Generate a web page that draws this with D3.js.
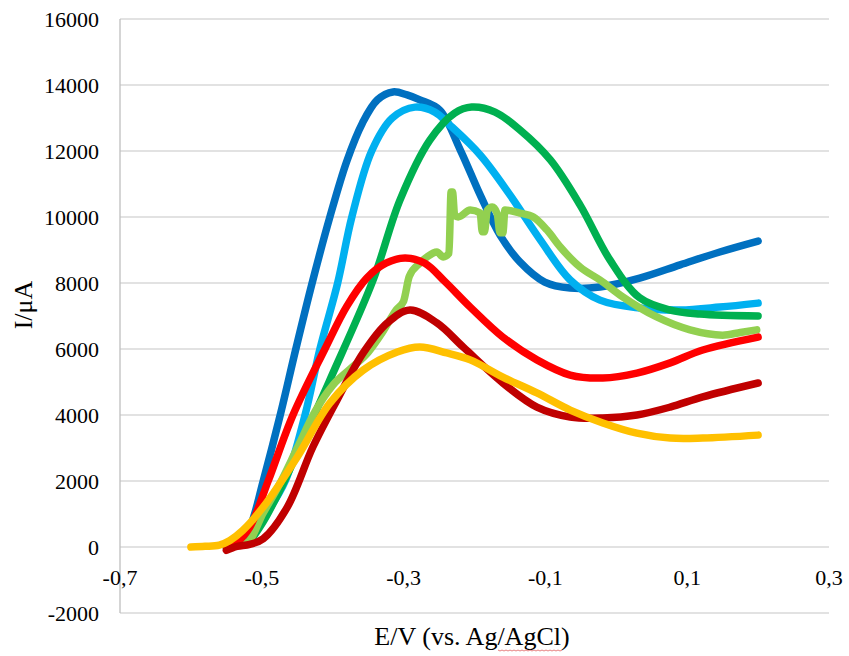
<!DOCTYPE html>
<html>
<head>
<meta charset="utf-8">
<script src="https://cdn.jsdelivr.net/npm/d3@7"></script>
<style>
    body { margin: 0; background: #fff; }
    svg text { font-family: 'Liberation Serif', 'Times New Roman', serif; }
</style>
</head>
<body>
<div id="chart"></div>
<script>
// Potential (V vs Ag/AgCl) and current (µA)
const darkBlueE = [-0.55, -0.53, -0.515, -0.498, -0.474, -0.452, -0.429, -0.404, -0.38, -0.358, -0.337, -0.315, -0.295, -0.277, -0.249, -0.22, -0.192, -0.164, -0.136, -0.101, -0.065, -0.023, 0.033, 0.09, 0.146, 0.2];
const darkBlueI = [0, 150, 700, 2000, 4000, 6000, 8000, 10000, 11700, 12850, 13550, 13790, 13700, 13550, 13240, 12030, 10670, 9450, 8640, 8030, 7850, 7880, 8150, 8550, 8940, 9270];

const lightBlueE = [-0.55, -0.52, -0.5, -0.467, -0.439, -0.418, -0.393, -0.373, -0.345, -0.316, -0.284, -0.256, -0.235, -0.192, -0.15, -0.107, -0.065, -0.023, 0.033, 0.09, 0.146, 0.2];
const lightBlueI = [0, 200, 800, 2000, 4000, 6000, 8000, 10000, 12000, 13000, 13330, 13180, 12790, 11880, 10670, 9300, 8090, 7480, 7240, 7180, 7270, 7390];

const greenE = [-0.55, -0.52, -0.5, -0.475, -0.45, -0.404, -0.343, -0.305, -0.263, -0.228, -0.204, -0.171, -0.136, -0.093, -0.051, -0.009, 0.033, 0.076, 0.118, 0.2];
const greenI = [0, 150, 700, 1700, 2850, 5060, 8090, 10520, 12330, 13150, 13330, 13180, 12640, 11730, 10360, 8700, 7550, 7180, 7060, 7000];

const lightGreenE = [-0.55, -0.52, -0.498, -0.475, -0.45, -0.425, -0.4, -0.375, -0.35, -0.33, -0.31, -0.3, -0.292, -0.277, -0.267, -0.253, -0.244, -0.236, -0.233, -0.231, -0.228, -0.223, -0.206, -0.192, -0.189, -0.186, -0.182, -0.175, -0.168, -0.164, -0.16, -0.157, -0.136, -0.117, -0.098, -0.079, -0.051, -0.023, 0.009, 0.057, 0.104, 0.15, 0.175, 0.198];
const lightGreenI = [0, 150, 1030, 1900, 3000, 4100, 4900, 5400, 5900, 6500, 7200, 7450, 8200, 8600, 8790, 8940, 8790, 8900, 10760, 10760, 10050, 10000, 10210, 10120, 9550, 9550, 10200, 10300, 10100, 9520, 9520, 10210, 10120, 10000, 9610, 9090, 8480, 8090, 7580, 6970, 6580, 6420, 6500, 6580];

const redE = [-0.55, -0.535, -0.517, -0.491, -0.456, -0.411, -0.38, -0.352, -0.325, -0.298, -0.27, -0.242, -0.206, -0.16, -0.112, -0.065, -0.019, 0.029, 0.076, 0.122, 0.2];
const redI = [0, 150, 600, 2000, 4000, 6000, 7300, 8150, 8600, 8760, 8600, 8050, 7270, 6360, 5670, 5210, 5120, 5270, 5580, 5970, 6360];

const darkRedE = [-0.55, -0.535, -0.517, -0.498, -0.464, -0.428, -0.394, -0.357, -0.323, -0.291, -0.253, -0.216, -0.16, -0.112, -0.065, -0.019, 0.029, 0.076, 0.122, 0.2];
const darkRedI = [-100, 20, 80, 250, 1210, 3030, 4450, 5880, 6790, 7180, 6790, 6060, 4970, 4240, 3940, 3910, 4000, 4240, 4550, 4970];

const yellowE = [-0.6, -0.58, -0.56, -0.545, -0.527, -0.498, -0.45, -0.404, -0.357, -0.309, -0.277, -0.239, -0.206, -0.16, -0.112, -0.065, -0.019, 0.029, 0.076, 0.122, 0.2];
const yellowI = [0, 20, 60, 200, 500, 1210, 2730, 4360, 5360, 5910, 6060, 5880, 5670, 5150, 4670, 4150, 3760, 3450, 3300, 3300, 3390];

const xTicks = [-0.7, -0.5, -0.3, -0.1, 0.1, 0.3];
const yTicks = [-2000, 0, 2000, 4000, 6000, 8000, 10000, 12000, 14000, 16000];

// drawing order follows the spreadsheet series order
const series = [
    { color: '#0070C0', e: darkBlueE, i: darkBlueI },
    { color: '#00B0F0', e: lightBlueE, i: lightBlueI },
    { color: '#00B050', e: greenE, i: greenI },
    { color: '#92D050', e: lightGreenE, i: lightGreenI, noisy: true },
    { color: '#FF0000', e: redE, i: redI },
    { color: '#C00000', e: darkRedE, i: darkRedI },
    { color: '#FFC000', e: yellowE, i: yellowI }
];

const width = 849;
const height = 656;
const serif = "'Liberation Serif', 'Times New Roman', serif";

const svg = d3.select('#chart')
    .append('svg')
    .attr('width', width)
    .attr('height', height);

const x = d3.scaleLinear().domain([-0.7, 0.3]).range([120, 829]);
const y = d3.scaleLinear().domain([-2000, 16000]).range([613, 19]);

// horizontal gridlines
svg.append('g')
    .selectAll('line')
    .data(yTicks)
    .join('line')
    .attr('x1', x(-0.7))
    .attr('x2', x(0.3))
    .attr('y1', d => y(d))
    .attr('y2', d => y(d))
    .attr('stroke', '#d9d9d9')
    .attr('stroke-width', 1.3);

// vertical axis line
svg.append('line')
    .attr('x1', x(-0.7))
    .attr('x2', x(-0.7))
    .attr('y1', y(16000))
    .attr('y2', y(-2000))
    .attr('stroke', '#bfbfbf')
    .attr('stroke-width', 1.3);

// tick labels
const fmt = d => d3.format('.1f')(d).replace('.', ',').replace('−', '-');

svg.append('g')
    .selectAll('text')
    .data(yTicks)
    .join('text')
    .attr('x', 99)
    .attr('y', d => y(d))
    .attr('dy', '0.35em')
    .attr('text-anchor', 'end')
    .attr('font-family', serif)
    .attr('font-size', 22)
    .attr('fill', '#000')
    .text(d => d);

svg.append('g')
    .selectAll('text')
    .data(xTicks)
    .join('text')
    .attr('x', d => x(d))
    .attr('y', 585)
    .attr('text-anchor', 'middle')
    .attr('font-family', serif)
    .attr('font-size', 22)
    .attr('fill', '#000')
    .text(fmt);

// curves
const line = d3.line()
    .x(d => x(d[0]))
    .y(d => y(d[1]));

svg.append('g')
    .selectAll('path')
    .data(series)
    .join('path')
    .attr('d', s => line.curve(s.noisy ? d3.curveMonotoneX : d3.curveCatmullRom.alpha(0.5))(d3.zip(s.e, s.i)))
    .attr('fill', 'none')
    .attr('stroke', s => s.color)
    .attr('stroke-width', 7.5)
    .attr('stroke-linecap', 'round')
    .attr('stroke-linejoin', 'round');

// axis titles
svg.append('text')
    .attr('transform', 'translate(32,305) rotate(-90)')
    .attr('text-anchor', 'middle')
    .attr('font-family', serif)
    .attr('font-size', 26)
    .attr('fill', '#000')
    .text('I/μA');

svg.append('text')
    .attr('x', 472)
    .attr('y', 645)
    .attr('text-anchor', 'middle')
    .attr('font-family', serif)
    .attr('font-size', 26)
    .attr('fill', '#000')
    .text('E/V (vs. Ag/AgCl)');

// spell-check squiggle under "AgCl"
const squiggle = d3.range(0, 33).map(k => [498 + k * 2, 650 + (k % 2 ? 1 : 0)]);
svg.append('path')
    .attr('d', d3.line()(squiggle))
    .attr('fill', 'none')
    .attr('stroke', '#e06060')
    .attr('stroke-width', 0.8);
</script>
</body>
</html>
